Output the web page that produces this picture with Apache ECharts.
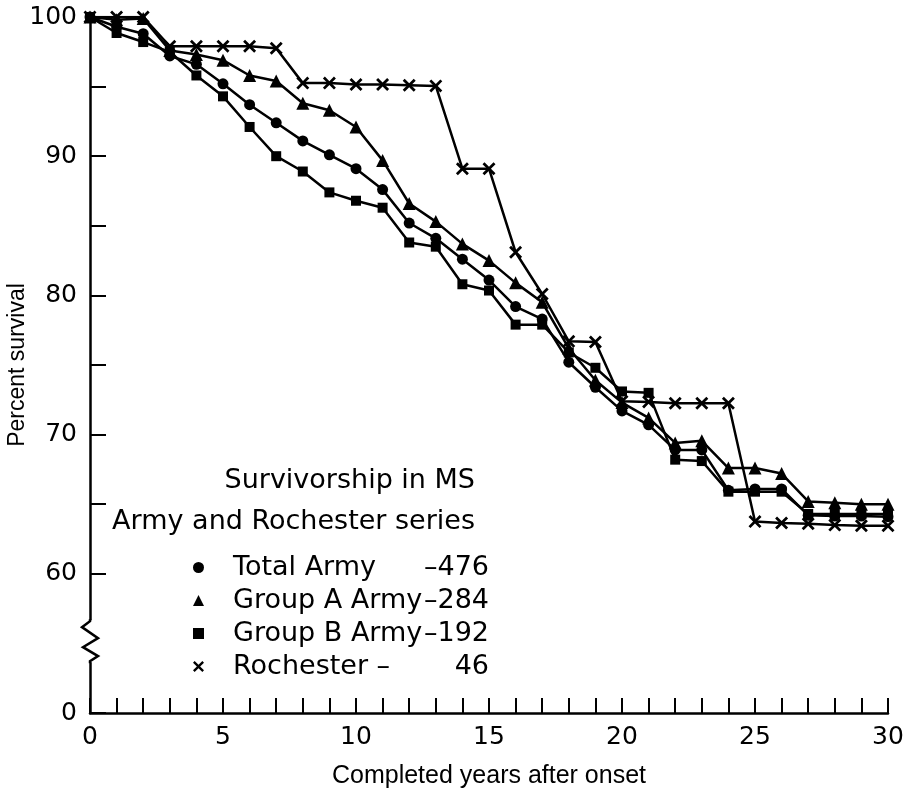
<!DOCTYPE html>
<html><head><meta charset="utf-8">
<script src="https://cdn.jsdelivr.net/npm/echarts@6/dist/echarts.min.js"></script>
<style>html,body{margin:0;padding:0;background:#fff}#c{width:907px;height:790px}</style>
</head><body><div id="c"></div>
<script>
const years = [0,1,2,3,4,5,6,7,8,9,10,11,12,13,14,15,16,17,18,19,20,21,22,23,24,25,26,27,28,29,30];
const totalArmy = [100,99.3,98.8,97.2,96.6,95.2,93.7,92.4,91.1,90.1,89.1,87.6,85.2,84.1,82.6,81.1,79.2,78.3,75.2,73.4,71.7,70.7,68.9,68.9,66.0,66.1,66.1,64.2,64.15,64.15,64.1];
const groupA = [100,99.8,99.9,97.6,97.3,96.9,95.8,95.4,93.8,93.3,92.1,89.7,86.6,85.3,83.7,82.5,80.9,79.5,76.2,73.9,72.3,71.2,69.4,69.55,67.6,67.6,67.2,65.2,65.1,65.0,65.0];
const groupB = [100,98.85,98.2,97.5,95.8,94.3,92.1,90.0,88.9,87.4,86.8,86.3,83.8,83.5,80.8,80.35,77.9,77.9,75.9,74.8,73.1,73.0,68.2,68.1,65.9,65.9,65.9,64.3,64.3,64.3,64.3];
const rochester = [100,100,100,97.9,97.9,97.9,97.9,97.75,95.25,95.25,95.15,95.15,95.1,95.05,89.1,89.1,83.1,80.1,76.7,76.65,72.4,72.35,72.25,72.25,72.25,63.75,63.65,63.6,63.5,63.45,63.45];
const seriesNames = ['Total Army','Group A Army','Group B Army','Rochester –'];
const seriesCounts = ['–476','–284','–192','46'];
const yTickLabels = {50:'0',60:'60',70:'70',80:'80',90:'90',100:'100'};
const xTickLabels = [0,5,10,15,20,25,30];
const titleLines = ['Survivorship in MS','Army and Rochester series'];

const crossPath = 'path://M0,1.5L1.5,0L5,3.5L8.5,0L10,1.5L6.5,5L10,8.5L8.5,10L5,6.5L1.5,10L0,8.5L3.5,5Z';
const symbols = ['circle','triangle','rect',crossPath];
const sizes = [11,13,10,13];
const allData = [totalArmy, groupA, groupB, rochester];

const chart = echarts.init(document.getElementById('c'), null, {renderer:'canvas'});
const series = allData.map((arr,i)=>({
  name: seriesNames[i], type:'line',
  data: years.map((y,j)=>[y, arr[j]]),
  symbol: symbols[i], symbolSize: sizes[i], showAllSymbol:true,
  lineStyle:{color:'#000', width:2.5},
  itemStyle:{color:'#000', borderWidth:0},
  animation:false
}));
const countMap = {}; seriesNames.forEach((n,i)=>countMap[n]=seriesCounts[i]);

chart.setOption({
  backgroundColor:'#fff',
  animation:false,
  grid:{left:90, right:19, top:17, bottom:77, containLabel:false, outerBoundsMode:'none'},
  xAxis:{type:'value', min:0, max:30, interval:1,
    name:'Completed years after onset', nameLocation:'middle', nameGap:51, nameMoveOverlap:false,
    nameTextStyle:{fontFamily:'Liberation Sans', fontSize:25, color:'#000'},
    axisLine:{onZero:false, lineStyle:{color:'#000', width:2.5}},
    axisTick:{inside:true, length:15, lineStyle:{color:'#000', width:2}},
    axisLabel:{margin:12, fontFamily:'DejaVu Sans', fontSize:25, color:'#000',
      formatter:v=>xTickLabels.includes(v)?String(v):''},
    splitLine:{show:false}},
  yAxis:{type:'value', min:50, max:100, interval:5,
    name:'Percent survival', nameLocation:'middle', nameGap:61, nameRotate:90, nameMoveOverlap:false,
    nameTextStyle:{fontFamily:'Liberation Sans', fontSize:23, color:'#000'},
    axisLine:{lineStyle:{color:'#000', width:2.5}},
    axisTick:{inside:true, length:16, lineStyle:{color:'#000', width:2}},
    axisLabel:{margin:13, fontFamily:'DejaVu Sans', fontSize:25, color:'#000',
      formatter:v=>yTickLabels[v]!==undefined?yTickLabels[v]:''},
    splitLine:{show:false}},
  legend:{orient:'vertical', left:193, top:554, padding:0, itemGap:6,
    itemWidth:11, itemHeight:11,
    data: seriesNames.map((n,i)=>({name:n, icon:symbols[i]})),
    formatter: n=>`{s|}{n|${n}}{c|${countMap[n]}}`,
    textStyle:{color:'#000', fontFamily:'DejaVu Sans', fontSize:27,
      rich:{s:{width:24},
            n:{width:190, fontFamily:'DejaVu Sans', fontSize:27, color:'#000'},
            c:{width:66, align:'right', fontFamily:'DejaVu Sans', fontSize:27, color:'#000'}}}},
  series: series
});

const p0 = chart.convertToPixel({gridIndex:0},[0,56.6]);
const ax = p0[0], ay = p0[1];
chart.setOption({graphic:[
  {type:'rect', shape:{x:ax-12, y:ay-1, width:30, height:42}, style:{fill:'#fff'}, z:100},
  {type:'polyline', shape:{points:[[ax,ay-2],[ax,ay],[ax-8,ay+6],[ax+8,ay+17],[ax-7,ay+26],[ax+8,ay+35],[ax,ay+40],[ax,ay+42]]},
    style:{stroke:'#000', lineWidth:2.5, fill:null}, z:101},
  {type:'text', style:{text:titleLines[0], x:475, y:481, textAlign:'right', textVerticalAlign:'middle',
    font:'27px "DejaVu Sans"', fill:'#000'}, z:101},
  {type:'text', style:{text:titleLines[1], x:475, y:522, textAlign:'right', textVerticalAlign:'middle',
    font:'27px "DejaVu Sans"', fill:'#000'}, z:101}
]});
</script></body></html>
